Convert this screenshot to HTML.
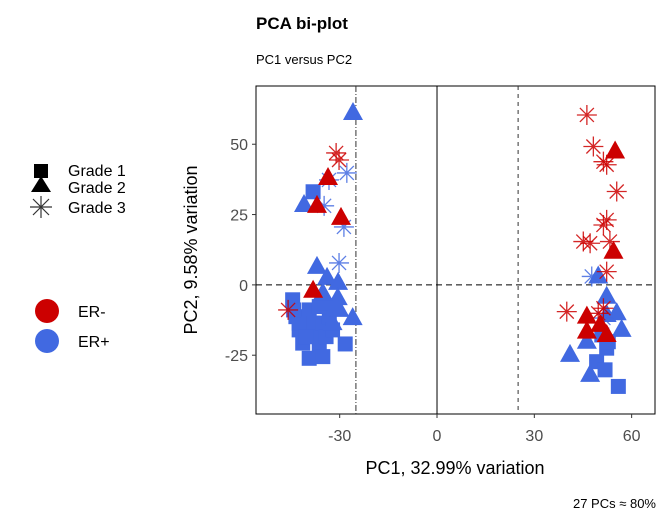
<!DOCTYPE html>
<html><head><meta charset="utf-8"><style>
body{margin:0;background:#fff;}
svg{display:block;font-family:"Liberation Sans",sans-serif;}
</style></head><body>
<svg id="c" width="672" height="528" viewBox="0 0 672 528">
<text x="256" y="29" font-size="17" font-weight="bold" fill="#000">PCA bi-plot</text>
<text x="256" y="64" font-size="13" fill="#000">PC1 versus PC2</text>
<g id="legend">
<rect x="34" y="164" width="14" height="14" fill="#000"/>
<polygon points="41,176 31,192 51,192" fill="#000"/>
<g stroke="#333" stroke-width="1.2"><line x1="30" y1="207" x2="52" y2="207"/><line x1="41" y1="196" x2="41" y2="218"/><line x1="33" y1="199" x2="49" y2="215"/><line x1="33" y1="215" x2="49" y2="199"/></g>
<text x="68" y="176" font-size="16">Grade 1</text>
<text x="68" y="193" font-size="16">Grade 2</text>
<text x="68" y="213" font-size="16">Grade 3</text>
<circle cx="47" cy="311" r="12" fill="#CC0000"/>
<circle cx="47" cy="341" r="12" fill="#4169E1"/>
<text x="78" y="317" font-size="16">ER-</text>
<text x="78" y="347" font-size="16">ER+</text>
</g>
<g id="plot"></g>
<text x="656" y="508" font-size="13" text-anchor="end">27 PCs ≈ 80%</text>
</svg>
<script>
const ticksX=[-30,0,30,60];
const ticksY=[-25,0,25,50];
// ER-: red; ER+: blue ; shapes: sq=Grade1, tri=Grade2, star=Grade3
const blueSqX=[-44.5,-43.5,-42.5,-41.4,-39.4,-38.3,-37.3,-36.3,-35.2,-34.2,-33.2,-32.2,-39.4,-35.2,-28.3,-42.5,-40.4,-36.3,-44.2,-38.2,50.8,52.3,49.2,51.8,55.9,52.8];
const blueSqY=[-5.3,-11.3,-16.0,-20.7,-8.9,-13.6,-18.4,-23.1,-13.6,-18.4,-11.3,-16.0,-26.1,-25.5,-21.0,-13.6,-18.4,-7.7,-8.9,33.1,-17.8,-22.5,-27.3,-30.2,-36.1,-20.2];
const blueTriX=[-25.9,-41,-37,-33.9,-30.5,-30.6,-34.2,-31.1,-26.0,-30.1,-32.2,-35.2,49.7,52.3,55.4,56.9,46.2,41.0,47.2,52.3];
const blueTriY=[61.1,28.4,6.4,2.5,0.7,-4.7,-6.5,-7.7,-11.8,-8.9,-13.6,-3.0,3.0,-4.2,-10.1,-16.0,-20.2,-24.9,-32.0,-10.7];
const blueStarX=[-27.8,-33.3,-34.8,-28.7,-30.2,47.7,51.3];
const blueStarY=[39.8,37.3,28.1,20.6,7.8,3.0,-11.8];
const redTriX=[-33.6,-37,-29.6,-38.2,54.9,54.4,46.2,46.2,52.3,50.3];
const redTriY=[38.0,28.1,23.8,-2.1,47.4,11.8,-11.3,-16.6,-17.8,-14.2];
const redStarX=[-31.1,-30.2,-45.9,46.2,48.2,51.3,52.3,55.4,52.3,51.3,45.1,47.2,53.3,52.3,40.0,49.7,51.3];
const redStarY=[46.9,44.4,-8.9,60.4,49.2,43.8,42.7,33.2,23.1,21.3,15.4,14.8,15.4,4.7,-9.5,-10.1,-8.3];
const vLinesX=[-25,25];

const L=256,R=655,T=86,B=414;
const xMin=-55.8,xMax=67.2,yMin=-45.9,yMax=70.7;
const sx=v=>L+(v-xMin)/(xMax-xMin)*(R-L);
const sy=v=>B-(v-yMin)/(yMax-yMin)*(B-T);
const NS='http://www.w3.org/2000/svg';
const g=document.getElementById('plot');
function mk(tag,at,parent){const e=document.createElementNS(NS,tag);for(const k in at)e.setAttribute(k,at[k]);(parent||g).appendChild(e);return e;}
const BLUE='#4169E1',RED='#CC0000';
let e;
e=mk('rect',{x:L,y:T,width:R-L,height:B-T,fill:'#fff',stroke:'#000','stroke-width':1});


e=mk('line',{x1:sx(0),x2:sx(0),y1:T,y2:B,stroke:'#000','stroke-width':1});


e=mk('line',{x1:L,x2:R,y1:sy(0),y2:sy(0),stroke:'#000','stroke-width':1,'stroke-dasharray':'6,4'});


vLinesX.forEach((v,i)=>{e=mk('line',{x1:sx(v),x2:sx(v),y1:T,y2:B,stroke:'#333','stroke-width':1,'stroke-dasharray':i==0?'6,2,1,2':'4,4'});

});
ticksX.forEach(v=>{mk('line',{x1:sx(v),x2:sx(v),y1:B,y2:B+4,stroke:'#333'});
e=mk('text',{x:sx(v),y:B+27,'font-size':16,fill:'#4d4d4d','text-anchor':'middle'});e.textContent=v;

});
ticksY.forEach(v=>{mk('line',{x1:L-4,x2:L,y1:sy(v),y2:sy(v),stroke:'#333'});
e=mk('text',{x:L-8,y:sy(v)+6,'font-size':16,fill:'#4d4d4d','text-anchor':'end'});e.textContent=v;

});
e=mk('text',{x:455,y:474,'font-size':18,'text-anchor':'middle'});e.textContent='PC1, 32.99% variation';


e=mk('text',{x:0,y:0,'font-size':18,'text-anchor':'middle',transform:'translate(197,250) rotate(-90)'});e.textContent='PC2, 9.58% variation';


function sq(xs,ys,c){xs.forEach((v,i)=>{e=mk('rect',{x:sx(v)-7.5,y:sy(ys[i])-7.5,width:15,height:15,fill:c});

});}
function tri(xs,ys,c){xs.forEach((v,i)=>{const X=sx(v),Y=sy(ys[i]);e=mk('polygon',{points:`${X},${Y-11} ${X-10},${Y+7} ${X+10},${Y+7}`,fill:c});

});}
function star(xs,ys,c){xs.forEach((v,i)=>{const X=sx(v),Y=sy(ys[i]);e=mk('path',{d:`M${X-10},${Y}H${X+10}M${X},${Y-10}V${Y+10}M${X-7},${Y-7}L${X+7},${Y+7}M${X-7},${Y+7}L${X+7},${Y-7}`,stroke:c,'stroke-width':1.3,fill:'none','stroke-opacity':0.85});

});}
sq(blueSqX,blueSqY,BLUE);
tri(blueTriX,blueTriY,BLUE);
star(blueStarX,blueStarY,BLUE);
tri(redTriX,redTriY,RED);
star(redStarX,redStarY,RED);
</script>
</body></html>
